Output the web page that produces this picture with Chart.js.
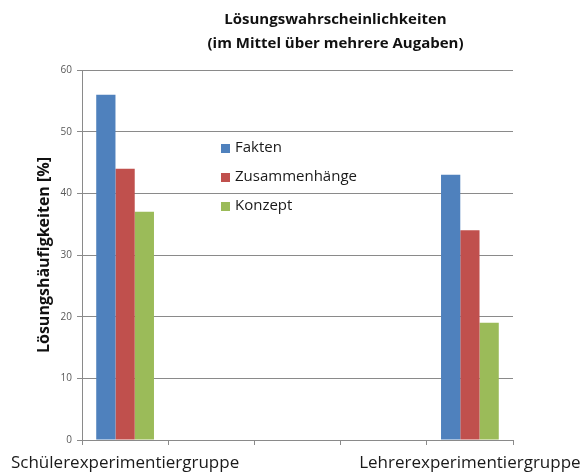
<!DOCTYPE html>
<html>
<head>
<meta charset="utf-8">
<script src="https://cdn.jsdelivr.net/npm/chart.js@4/dist/chart.umd.min.js"></script>
<style>
html,body{margin:0;padding:0;background:#fff;}
#wrap{width:587px;height:475px;position:relative;}
</style>
</head>
<body>
<div id="wrap"><canvas id="c" width="587" height="475"></canvas></div>
<script>
const categories = ["Schülerexperimentiergruppe", "", "", "", "Lehrerexperimentiergruppe"];
const seriesNames = ["Fakten", "Zusammenhänge", "Konzept"];
const fakten = [56, null, null, null, 43];
const zusammenhaenge = [44, null, null, null, 34];
const konzept = [37, null, null, null, 19];
const yTicks = [0, 10, 20, 30, 40, 50, 60];
const titleLines = ["Lösungswahrscheinlichkeiten", "(im Mittel über mehrere Augaben)"];
const yTitle = "Lösungshäufigkeiten [%]";
const colors = ["#4F81BD", "#C0504D", "#9BBB59"];

const FONT = "'Open Sans', 'DejaVu Sans', sans-serif";

const insideLegend = {
  id: 'insideLegend',
  afterLayout(chart) {
    const t = chart.titleBlock;
    if (t) { t.left += 79; t.right += 79; }
  },
  afterDraw(chart) {
    const ctx = chart.ctx;
    const x0 = 221, ys = [148, 177, 206];
    ctx.save();
    ctx.font = "15px " + FONT;
    ctx.textBaseline = 'middle';
    ctx.textAlign = 'left';
    chart.data.datasets.forEach((ds, i) => {
      ctx.fillStyle = ds.backgroundColor;
      ctx.fillRect(x0, ys[i] - 4, 9, 9);
      ctx.fillStyle = '#1a1a1a';
      ctx.fillText(ds.label, x0 + 14, ys[i]);
    });
    ctx.restore();
  }
};

const seriesData = [fakten, zusammenhaenge, konzept];

new Chart(document.getElementById('c'), {
  type: 'bar',
  data: {
    labels: categories,
    datasets: seriesNames.map((n, i) => ({
      label: n,
      data: seriesData[i],
      backgroundColor: colors[i],
      borderWidth: 0,
      categoryPercentage: 0.67,
      barPercentage: 1.0
    }))
  },
  options: {
    responsive: false,
    animation: false,
    devicePixelRatio: 1,
    layout: { padding: { left: 0, right: 74, top: 0, bottom: 0 } },
    plugins: {
      legend: { display: false },
      tooltip: { enabled: false },
      title: {
        display: true,
        text: titleLines,
        color: '#111',
        font: { family: FONT, size: 15, weight: 'bold', lineHeight: 1.6 },
        padding: { top: 8, bottom: 14 }
      }
    },
    scales: {
      x: {
        offset: true,
        grid: {
          display: true,
          offset: true,
          drawOnChartArea: false,
          drawTicks: true,
          tickLength: 5,
          color: '#8a8a8a'
        },
        border: { display: true, color: '#8a8a8a' },
        ticks: {
          autoSkip: false,
          maxRotation: 0,
          minRotation: 0,
          padding: 8,
          color: '#1a1a1a',
          font: { family: FONT, size: 17 }
        },
        afterFit(scale) {
          scale.height = 35;
          scale.paddingLeft = 0;
          scale.paddingRight = 0;
        }
      },
      y: {
        min: 0,
        max: 60,
        afterBuildTicks(scale) { scale.ticks = yTicks.map(v => ({ value: v })); },
        grid: {
          color: '#8a8a8a',
          tickLength: 5,
          drawTicks: true
        },
        border: { display: true, color: '#8a8a8a' },
        ticks: {
          padding: 5,
          color: '#595959',
          font: { family: FONT, size: 10 }
        },
        title: {
          display: true,
          text: yTitle,
          color: '#111',
          font: { family: FONT, size: 16, weight: 'bold', lineHeight: 1.2 },
          padding: { top: 35, bottom: 0 }
        },
        afterFit(scale) {
          scale.width = 82;
          scale.paddingTop = 0;
          scale.paddingBottom = 0;
        }
      }
    }
  },
  plugins: [insideLegend]
});
</script>
</body>
</html>
